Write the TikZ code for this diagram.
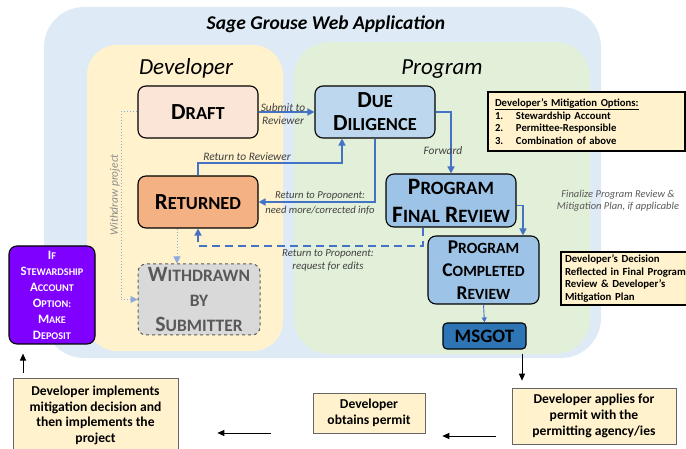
\documentclass[tikz,border=0pt]{standalone}
\usepackage{fontspec}
\setmainfont{Carlito}
\usetikzlibrary{arrows.meta,calc}

\definecolor{appblue}{HTML}{DEEBF7}
\definecolor{devyellow}{HTML}{FFF2CC}
\definecolor{proggreen}{HTML}{E2F0D9}
\definecolor{draftfill}{HTML}{FBE5D6}
\definecolor{ddfill}{HTML}{BDD7EE}
\definecolor{revfill}{HTML}{9DC3E6}
\definecolor{retfill}{HTML}{F4B183}
\definecolor{wdfill}{HTML}{D9D9D9}
\definecolor{wdtext}{HTML}{595959}
\definecolor{msgotfill}{HTML}{2E75B6}
\definecolor{depositfill}{HTML}{8000FF}
\definecolor{flowblue}{HTML}{4472C4}
\definecolor{dotblue}{HTML}{8FAADC}
\definecolor{labelgray}{HTML}{404040}

% small caps built from a full capital and scaled capitals
\newcommand{\sck}[2]{#1\scalebox{0.8}{#2}}

\tikzset{
  x=1pt, y=-1pt,
  stage/.style={draw=black, line width=1.1pt, rounded corners=8pt, inner sep=0pt,
    align=center, font=\bfseries\fontsize{23}{23}\selectfont},
  notebox/.style={draw=black, line width=1.1pt, fill=devyellow, inner sep=0pt,
    font=\bfseries\fontsize{10.7}{12.6}\selectfont},
  stepnote/.style={draw=black!60, line width=0.6pt, fill=devyellow, inner sep=0pt,
    align=center, font=\bfseries\fontsize{13.6}{15.7}\selectfont},
  flow/.style={draw=flowblue, line width=1.5pt, -{Triangle[length=7pt,width=7pt]}},
  thinflow/.style={draw=flowblue, line width=0.9pt, -{Triangle[length=5pt,width=5pt]}},
  dotflow/.style={draw=dotblue, line width=1pt, dotted, -{Triangle[length=7pt,width=7pt]}},
  blackflow/.style={draw=black, line width=1pt, -{Triangle[length=7pt,width=6pt]}},
  lbl/.style={font=\itshape\fontsize{11.4}{12.8}\selectfont, text=labelgray, inner sep=0pt, align=center},
}

\begin{document}
\begin{tikzpicture}
\useasboundingbox (0,0) rectangle (686,449);
\clip (0,0) rectangle (686,449);

% application and role regions
\fill[appblue, rounded corners=40pt] (44,7) rectangle (601,358);
\fill[devyellow, rounded corners=30pt] (87,45) rectangle (283,351);
\fill[proggreen, rounded corners=35pt] (294,42) rectangle (590,354);

\node[anchor=base, font=\bfseries\itshape\fontsize{19.5}{21}\selectfont] (apptitle) at (326,30) {Sage Grouse Web Application};
\node[anchor=base, font=\itshape\fontsize{23}{24}\selectfont] (devtitle) at (186,75) {Developer};
\node[anchor=base, font=\itshape\fontsize{23}{24}\selectfont] (progtitle) at (442,75) {Program};

% workflow stages
\node[stage, fill=draftfill, minimum width=120pt, minimum height=52pt] (draft) at (198,112) {\sck{D}{RAFT}};
\node[stage, fill=ddfill, minimum width=120pt, minimum height=52pt] (dd) at (375,112) {\sck{D}{UE}\\\sck{D}{ILIGENCE}};
\node[stage, fill=retfill, minimum width=120pt, minimum height=52pt] (ret) at (198,202) {\sck{R}{ETURNED}};
\node[stage, fill=revfill, minimum width=130pt, minimum height=53pt, font=\bfseries\fontsize{23.5}{28}\selectfont] (pfr) at (451,200.5) {\sck{P}{ROGRAM}\\\sck{F}{INAL} \sck{R}{EVIEW}};
\node[stage, fill=revfill, minimum width=111pt, minimum height=68pt, font=\bfseries\fontsize{19.5}{23}\selectfont] (pcr) at (483.5,270) {\sck{P}{ROGRAM}\\\sck{C}{OMPLETED}\\\sck{R}{EVIEW}};
\node[stage, draw=wdtext, dashed, line width=1pt, fill=wdfill, text=wdtext, minimum width=122pt, minimum height=71pt, font=\bfseries\fontsize{21.8}{25}\selectfont] (wd) at (199,299.5) {\sck{W}{ITHDRAWN}\\\sck{}{BY}\\\sck{S}{UBMITTER}};
\node[stage, fill=msgotfill, rounded corners=4pt, minimum width=83pt, minimum height=26pt, font=\bfseries\fontsize{19}{21}\selectfont] (msgot) at (484.5,336) {MSGOT};
\node[stage, fill=depositfill, text=white, minimum width=86pt, minimum height=98pt, font=\bfseries\fontsize{12.8}{16}\selectfont] (deposit) at (52,295) {\sck{I}{F}\\\sck{S}{TEWARDSHIP}\\\sck{A}{CCOUNT}\\\sck{O}{PTION:}\\\sck{M}{AKE}\\\sck{D}{EPOSIT}};

% notes
\node[notebox, minimum width=197pt, minimum height=59pt, text width=183pt, inner xsep=7pt, align=left] (options) at (586.5,121.5)
  {\underline{Developer’s Mitigation Options:}\\
   \makebox[21pt][l]{1.}Stewardship Account\\
   \makebox[21pt][l]{2.}Permittee-Responsible\\
   \makebox[21pt][l]{3.}Combination of above};
\node[notebox, minimum width=130pt, minimum height=53pt, text width=122pt, inner xsep=4pt, align=left, font=\bfseries\fontsize{10.8}{12.7}\selectfont] (decision) at (626,278.5)
  {Developer’s Decision\\Reflected in Final Program\\Review \& Developer’s\\Mitigation Plan};

\node[lbl, text=wdtext, font=\itshape\fontsize{10.5}{12.5}\selectfont] (finalize) at (618,201) {Finalize Program Review \&\\Mitigation Plan, if applicable};

% permitting steps
\node[stepnote, minimum width=165pt, minimum height=75pt] (implements) at (95.5,415.5) {Developer implements\\mitigation decision and\\then implements the\\project};
\node[stepnote, minimum width=112pt, minimum height=40pt] (obtains) at (369,413) {Developer\\obtains permit};
\node[stepnote, minimum width=164pt, minimum height=56pt] (applies) at (594,416) {Developer applies for\\permit with the\\permitting agency/ies};

% workflow connectors
\draw[flow] (draft.east) -- (dd.west);
\node[lbl] (submitlbl) at (283,114) {Submit to\\Reviewer};

\draw[flow] (dd.east) -| (pfr.north);
\node[lbl] (fwdlbl) at (443,151) {Forward};

\coordinate (rrturn) at (342,163);
\draw[flow] (ret.north) |- (rrturn) -- (rrturn |- dd.south);
\node[lbl] (rrlbl) at (247,157) {Return to Reviewer};

\draw[flow] (dd.south) |- (ret.east);
\node[lbl, font=\itshape\fontsize{10.6}{15}\selectfont] (rplbl) at (320,203) {Return to Proponent:\\need more/corrected info};

\draw[flow] ([yshift=-5pt]pfr.east) -| ([xshift=39.5pt]pcr.north);

\coordinate (editturn) at (300,246);
\draw[flow, dashed, dash pattern=on 8pt off 5pt] ([xshift=-28pt]pfr.south) |- (editturn) -| (ret.south);
\node[lbl, font=\itshape\fontsize{10.8}{13}\selectfont] (editlbl) at (328,260.5) {Return to Proponent:\\request for edits};

\draw[thinflow] (pcr.south) -- (msgot.north);

\coordinate (wdturn) at (121,200);
\draw[dotflow] (draft.west) -| (wdturn) |- (wd.west);
\node[lbl, rotate=90, text=black!45] (wdlbl) at (115,195) {Withdraw project};
\draw[dotflow] ([xshift=-21pt]ret.south) -- ([xshift=-22pt]wd.north);

% permitting sequence
\coordinate (msgotout) at ([xshift=37.5pt]msgot.south);
\draw[blackflow, shorten <=4pt, shorten >=7pt] (msgotout) -- (msgotout |- applies.north);
\coordinate (appout) at (applies.west |- 0,436);
\draw[blackflow, shorten <=16pt, shorten >=17pt] (appout) -- (appout -| obtains.east);
\coordinate (obtout) at (obtains.west |- 0,433);
\draw[blackflow, shorten <=42pt, shorten >=39pt] (obtout) -- (obtout -| implements.east);
\coordinate (impout) at (implements.north -| 23,0);
\draw[blackflow, shorten <=5pt, shorten >=9pt] (impout) -- (impout |- deposit.south);
\end{tikzpicture}
\end{document}
